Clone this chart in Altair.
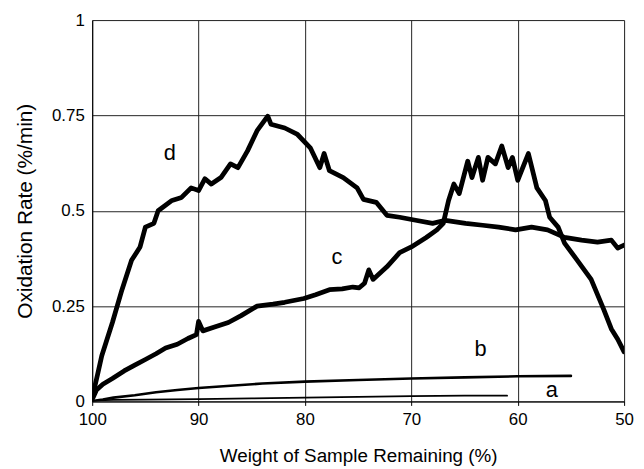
import altair as alt
import pandas as pd

# ---- data ----
a_x = [100, 99.6, 98, 95, 90, 85, 80, 75, 70, 65, 61]
a_y = [0.0, 0.003, 0.004, 0.005, 0.006, 0.008, 0.010, 0.012, 0.014, 0.015, 0.015]

b_x = [100, 99.5, 99, 98, 96, 94, 92, 90, 87, 84, 80, 75, 70, 65, 60, 55]
b_y = [0.0, 0.003, 0.005, 0.010, 0.016, 0.024, 0.030, 0.035, 0.041, 0.047, 0.052,
       0.056, 0.060, 0.063, 0.066, 0.067]

c_x = [100, 99.6, 99, 98.1, 97, 96, 95, 94, 93.1, 92, 91, 90.2, 90, 89.6, 88.5,
       87.2, 86, 84.5, 83, 81.9, 80.1, 79, 77.7, 76.5, 75.5, 74.9, 74.4, 74.0, 73.6,
       72.3, 71.1, 70.0, 68.6, 67.6, 67.0, 66.5, 66.0, 65.5, 64.7, 64.3, 63.7, 63.3,
       62.8, 62.1, 61.5, 60.9, 60.5, 60.0, 59.0, 58.2, 57.4, 57.0, 56.2, 55.6, 54.4,
       53.1, 51.9, 51.2, 50.6, 50]
c_y = [0.005, 0.03, 0.045, 0.06, 0.08, 0.095, 0.11, 0.125, 0.14, 0.15, 0.165, 0.175,
       0.21, 0.185, 0.195, 0.207, 0.225, 0.25, 0.255, 0.26, 0.27, 0.28, 0.293, 0.295,
       0.30, 0.298, 0.31, 0.345, 0.32, 0.353, 0.39, 0.405, 0.43, 0.45, 0.467, 0.527,
       0.57, 0.545, 0.63, 0.587, 0.64, 0.58, 0.64, 0.623, 0.67, 0.613, 0.64, 0.58,
       0.65, 0.56, 0.527, 0.483, 0.457, 0.415, 0.37, 0.32, 0.24, 0.19, 0.163, 0.13]

d_x = [100, 99.5, 99.1, 98.1, 97.2, 96.3, 95.5, 95.0, 94.2, 93.8, 92.5, 91.6, 90.7,
       90.0, 89.4, 88.8, 87.9, 87.0, 86.3, 85.4, 84.5, 83.5, 83.2, 81.9, 80.7, 79.5,
       78.6, 78.2, 77.7, 76.4, 75.1, 74.5, 73.3, 72.3, 71.1, 69.6, 68.0, 66.8, 64.9,
       63.3, 61.8, 60.2, 58.7, 57.2, 55.6, 54.0, 52.5, 51.2, 50.6, 50]
d_y = [0.01, 0.07, 0.12, 0.207, 0.293, 0.37, 0.405, 0.457, 0.467, 0.50, 0.527, 0.535,
       0.56, 0.553, 0.584, 0.57, 0.587, 0.623, 0.613, 0.657, 0.71, 0.748, 0.727, 0.717,
       0.70, 0.665, 0.613, 0.65, 0.605, 0.587, 0.56, 0.53, 0.522, 0.488, 0.483, 0.475,
       0.467, 0.475, 0.467, 0.462, 0.457, 0.45, 0.457, 0.45, 0.43, 0.423, 0.418, 0.423,
       0.402, 0.41]

label_text = ["d", "c", "b", "a"]
label_x = [92.7, 77.0, 63.5, 56.8]
label_y = [0.652, 0.379, 0.138, 0.029]

x_ticks = [100, 90, 80, 70, 60, 50]
y_ticks = [0, 0.25, 0.5, 0.75, 1]

series = {"a": (a_x, a_y), "b": (b_x, b_y), "c": (c_x, c_y), "d": (d_x, d_y)}
widths = {"a": 1.8, "b": 2.6, "c": 4.8, "d": 4.8}

rows = []
for name, (xs, ys) in series.items():
    for i, (xv, yv) in enumerate(zip(xs, ys)):
        rows.append({"series": name, "idx": i, "w": xv, "r": yv})
df = pd.DataFrame(rows)
labels = pd.DataFrame({"t": label_text, "w": label_x, "r": label_y})

FONT = "Liberation Sans"

x_enc = alt.X("w:Q", scale=alt.Scale(domain=[50, 100], reverse=True, nice=False),
              axis=alt.Axis(values=x_ticks, title="Weight of Sample Remaining (%)",
                            grid=True, gridColor="#222222", gridWidth=1,
                            domainColor="#000000", tickColor="#000000", tickSize=4,
                            labelFont=FONT, labelFontSize=17, labelColor="#000000",
                            labelPadding=6, labelFlush=False,
                            titleFont=FONT, titleFontSize=19, titleColor="#000000",
                            titleFontWeight="normal", titleY=61,
                            titleBaseline="alphabetic"))
y_enc = alt.Y("r:Q", scale=alt.Scale(domain=[0, 1], nice=False),
              axis=alt.Axis(values=y_ticks, format=".2~f", title="Oxidation Rate (%/min)",
                            grid=True, gridColor="#222222", gridWidth=1,
                            domainColor="#000000", tickSize=0, labelPadding=8,
                            labelFont=FONT, labelFontSize=17, labelColor="#000000",
                            labelFlush=False,
                            titleFont=FONT, titleFontSize=21,
                            titleColor="#000000", titleFontWeight="normal",
                            titleX=-57, titleBaseline="bottom"))

layers = []
for name in ["a", "b", "c", "d"]:
    layers.append(
        alt.Chart(df[df.series == name]).mark_line(
            color="#000000", strokeWidth=widths[name], strokeJoin="round",
            strokeCap="round", clip=True
        ).encode(x=x_enc, y=y_enc, order="idx:Q")
    )

text = alt.Chart(labels).mark_text(
    font=FONT, fontSize=22, color="#000000", align="center", baseline="middle"
).encode(x=alt.X("w:Q"), y=alt.Y("r:Q"), text="t:N")

chart = alt.layer(*layers, text).properties(
    width=537, height=385,
    autosize=alt.AutoSizeParams(type="none"),
    padding={"left": 85, "top": 10, "right": 12, "bottom": 64},
).configure_view(stroke=None).configure(background="#ffffff")

chart.save("out.html", embed_options={"renderer": "svg", "actions": False})
